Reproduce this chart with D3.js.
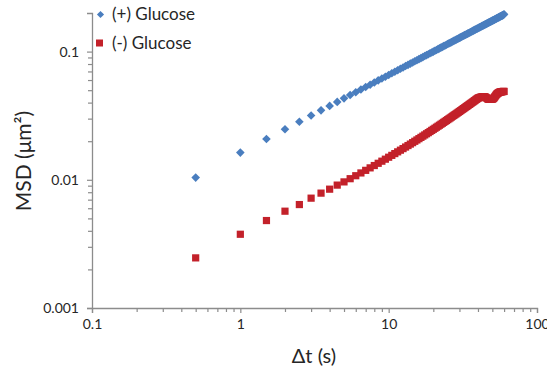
<!DOCTYPE html>
<html lang="en">
<head>
	<meta charset="UTF-8"/>
	<title>MSD vs lag time</title>
	<script src="https://d3js.org/d3.v7.min.js"></script>
	<style>
		body { margin: 0; background: #fff; }
		text { font-family: Lato, "Open Sans", sans-serif; fill: #262626; }
	</style>
</head>
<body>
	<script>
		var w = 547;
		var h = 373;

		// lag times (s)
		var lagTimes = [
			0.5,1,1.5,2,2.5,3,3.5,4,4.5,5,
			5.5,6,6.5,7,7.5,8,8.5,9,9.5,10,
			10.5,11,11.5,12,12.5,13,13.5,14,14.5,15,
			15.5,16,16.5,17,17.5,18,18.5,19,19.5,20,
			20.5,21,21.5,22,22.5,23,23.5,24,24.5,25,
			25.5,26,26.5,27,27.5,28,28.5,29,29.5,30,
			30.5,31,31.5,32,32.5,33,33.5,34,34.5,35,
			35.5,36,36.5,37,37.5,38,38.5,39,39.5,40,
			40.5,41,41.5,42,42.5,43,43.5,44,44.5,45,
			45.5,46,46.5,47,47.5,48,48.5,49,49.5,50,
			50.5,51,51.5,52,52.5,53,53.5,54,54.5,55,
			55.5,56,56.5,57,57.5,58,58.5,59,59.5,60
		];

		// MSD (um^2), (+) Glucose
		var msdPlus = [
			0.0104,0.0163,0.0208,0.0248,0.0284,0.0317,0.0348,0.0377,0.0405,0.0432,
			0.0458,0.0482,0.0506,0.0530,0.0552,0.0574,0.0596,0.0617,0.0637,0.0657,
			0.0677,0.0696,0.0715,0.0734,0.0752,0.0771,0.0788,0.0806,0.0823,0.0840,
			0.0857,0.0874,0.0890,0.0906,0.0923,0.0938,0.0954,0.0970,0.0985,0.1000,
			0.1015,0.1030,0.1045,0.1060,0.1074,0.1089,0.1103,0.1117,0.1131,0.1145,
			0.1159,0.1173,0.1186,0.1200,0.1213,0.1226,0.1239,0.1253,0.1266,0.1279,
			0.1292,0.1305,0.1317,0.1330,0.1343,0.1355,0.1367,0.1380,0.1392,0.1404,
			0.1416,0.1428,0.1440,0.1452,0.1464,0.1476,0.1488,0.1499,0.1511,0.1522,
			0.1534,0.1545,0.1557,0.1568,0.1579,0.1591,0.1602,0.1613,0.1624,0.1635,
			0.1646,0.1657,0.1668,0.1679,0.1689,0.1700,0.1711,0.1722,0.1732,0.1743,
			0.1753,0.1764,0.1774,0.1785,0.1795,0.1805,0.1816,0.1826,0.1836,0.1846,
			0.1856,0.1867,0.1877,0.1887,0.1897,0.1907,0.1917,0.1926,0.1940,0.1955
		];

		// MSD (um^2), (-) Glucose
		var msdMinus = [
			0.00246,0.00376,0.00481,0.00569,0.00641,0.00719,0.00787,0.00845,0.00909,0.00963,
			0.01020,0.01076,0.01131,0.01185,0.01239,0.01292,0.01345,0.01397,0.01448,0.01500,
			0.01551,0.01601,0.01652,0.01702,0.01751,0.01801,0.01850,0.01899,0.01948,0.01997,
			0.02045,0.02094,0.02142,0.02190,0.02238,0.02286,0.02333,0.02381,0.02429,0.02476,
			0.02523,0.02571,0.02618,0.02665,0.02712,0.02759,0.02806,0.02853,0.02900,0.02946,
			0.02993,0.03040,0.03087,0.03133,0.03180,0.03226,0.03272,0.03319,0.03365,0.03411,
			0.03458,0.03504,0.03550,0.03596,0.03643,0.03689,0.03735,0.03781,0.03827,0.03873,
			0.03919,0.03965,0.04011,0.04057,0.04103,0.04150,0.04196,0.04242,0.04288,0.04335,
			0.0436,0.0438,0.0440,0.0442,0.0443,0.0444,0.0445,0.0445,0.0444,0.0441,
			0.0437,0.0432,0.0428,0.0425,0.0424,0.0424,0.0424,0.0425,0.0425,0.0426,
			0.0428,0.0432,0.0438,0.0445,0.0452,0.0459,0.0465,0.0470,0.0474,0.0477,
			0.0480,0.0482,0.0484,0.0485,0.0486,0.0487,0.0488,0.0488,0.0489,0.0489
		];

		var seriesNames = ["(+) Glucose", "(-) Glucose"];
		var seriesColors = ["#4a7ebf", "#c3212a"];

		var xMajor = [0.1, 1, 10, 100];
		var xLabels = ["0.1", "1", "10", "100"];
		var yMajor = [0.001, 0.01, 0.1];
		var yLabels = ["0.001", "0.01", "0.1"];
		var xMinor = [0.2,0.3,0.4,0.5,0.6,0.7,0.8,0.9, 2,3,4,5,6,7,8,9, 20,30,40,50,60,70,80,90];
		var yMinor = [0.002,0.003,0.004,0.005,0.006,0.007,0.008,0.009, 0.02,0.03,0.04,0.05,0.06,0.07,0.08,0.09];

		var plotLeft = 92, plotRight = 537, plotTop = 13, plotBottom = 308;

		var xScale = d3.scaleLog()
					.domain([0.1, 100])
					.range([plotLeft, plotRight]);

		var yScale = d3.scaleLog()
					.domain([0.001, 0.2])
					.range([plotBottom, plotTop]);

		var svg = d3.select("body")
					.append("svg")
					.attr("width", w)
					.attr("height", h);

		var axisColor = "#8c8c8c";

		// x axis
		svg.append("g")
			.attr("transform", "translate(0," + plotBottom + ")")
			.call(d3.axisBottom(xScale)
				.tickValues(xMajor)
				.tickSize(5)
				.tickPadding(6)
				.tickFormat(function(d, i){ return xLabels[i]; }));
		svg.append("g")
			.attr("transform", "translate(0," + plotBottom + ")")
			.call(d3.axisBottom(xScale).tickValues(xMinor).tickSize(4).tickFormat(""))
			.select(".domain").remove();

		// y axis
		svg.append("g")
			.attr("transform", "translate(" + plotLeft + ",0)")
			.call(d3.axisLeft(yScale)
				.tickValues(yMajor)
				.tickSize(5)
				.tickPadding(8)
				.tickFormat(function(d, i){ return yLabels[i]; }));
		svg.append("g")
			.attr("transform", "translate(" + plotLeft + ",0)")
			.call(d3.axisLeft(yScale).tickValues(yMinor).tickSize(4).tickFormat(""))
			.select(".domain").remove();

		svg.selectAll(".domain").attr("stroke", axisColor).attr("stroke-width", 1.3);
		svg.selectAll(".tick line").attr("stroke", axisColor).attr("stroke-width", 1.2);
		svg.selectAll(".tick text").attr("font-size", 14).attr("fill", "#262626")
			.style("font-family", "Lato, sans-serif");

		// points: red squares
		svg.append("g").selectAll("rect")
			.data(lagTimes)
			.enter()
			.append("rect")
			.attr("x", function(d){ return xScale(d) - 3.6; })
			.attr("y", function(d, i){ return yScale(msdMinus[i]) - 3.6; })
			.attr("width", 7.2)
			.attr("height", 7.2)
			.attr("fill", seriesColors[1]);

		// points: blue diamonds
		var diamond = "M0,-4.3L4.3,0L0,4.3L-4.3,0Z";
		svg.append("g").selectAll("path")
			.data(lagTimes)
			.enter()
			.append("path")
			.attr("d", diamond)
			.attr("transform", function(d, i){
				return "translate(" + xScale(d) + "," + yScale(msdPlus[i]) + ")";
			})
			.attr("fill", seriesColors[0]);

		// legend
		var legend = svg.append("g");
		legend.append("path")
			.attr("d", "M0,-3.6L3.6,0L0,3.6L-3.6,0Z")
			.attr("transform", "translate(100.5,14.5)")
			.attr("fill", seriesColors[0]);
		legend.append("rect")
			.attr("x", 96).attr("y", 39.5)
			.attr("width", 7).attr("height", 7)
			.attr("fill", seriesColors[1]);
		legend.selectAll("text")
			.data(seriesNames)
			.enter()
			.append("text")
			.attr("x", 112)
			.attr("y", function(d, i){ return 20 + i * 29; })
			.attr("font-size", 17)
			.text(function(d){ return d; });

		// axis titles
		svg.append("text")
			.attr("text-anchor", "middle")
			.attr("x", 314)
			.attr("y", 363)
			.attr("font-size", 20)
			.text("\u0394t (s)");

		svg.append("text")
			.attr("text-anchor", "middle")
			.attr("transform", "rotate(-90)")
			.attr("x", -161)
			.attr("y", 31)
			.attr("font-size", 21)
			.text("MSD (\u03bcm\u00b2)");
	</script>
</body>
</html>
